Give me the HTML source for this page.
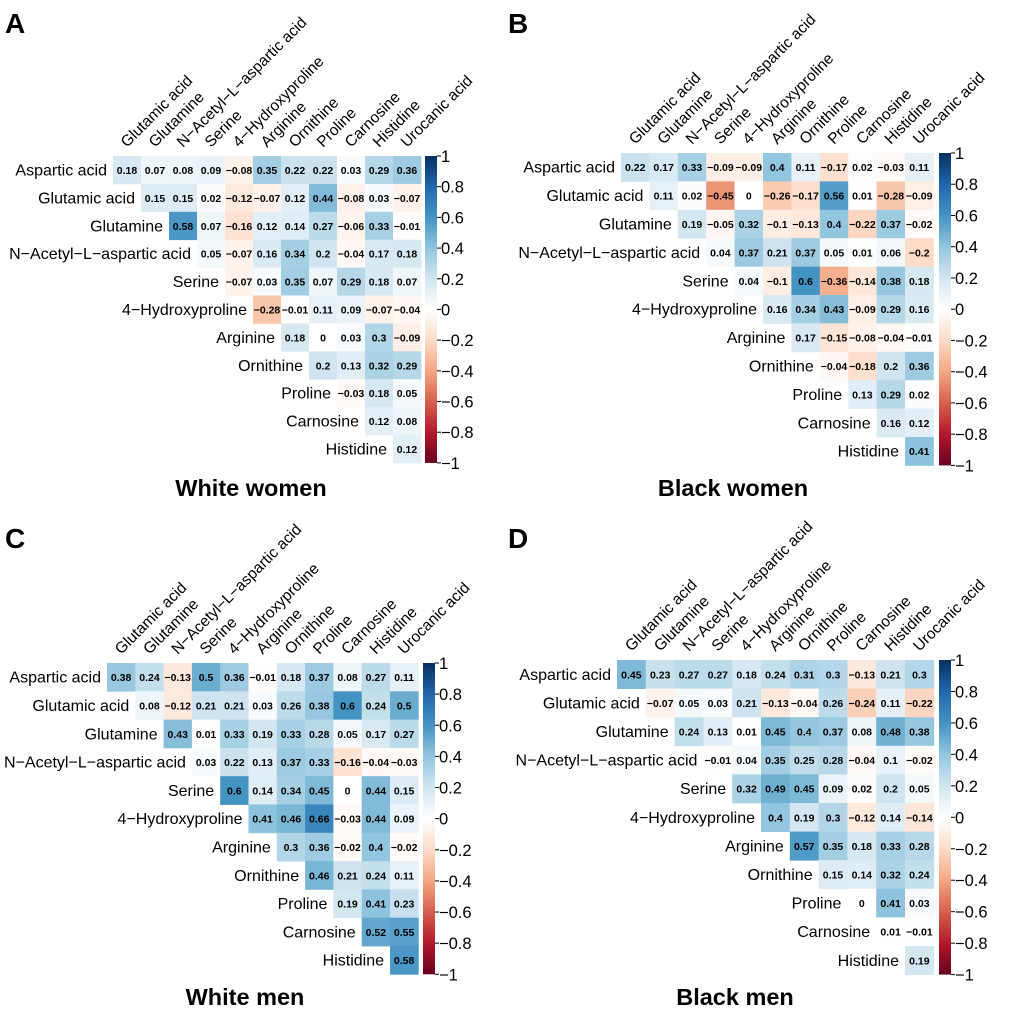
<!DOCTYPE html>
<html><head><meta charset="utf-8"><style>
html,body{margin:0;padding:0;background:#fff;}
svg{display:block;font-family:"Liberation Sans",Arial,sans-serif;}
</style></head><body>
<svg id="fig" width="1020" height="1017" viewBox="0 0 1020 1017" xmlns="http://www.w3.org/2000/svg"></svg>
<script>
const rowLabels = ["Aspartic acid","Glutamic acid","Glutamine","N\u2212Acetyl\u2212L\u2212aspartic acid","Serine","4\u2212Hydroxyproline","Arginine","Ornithine","Proline","Carnosine","Histidine"];
const colLabels = ["Glutamic acid","Glutamine","N\u2212Acetyl\u2212L\u2212aspartic acid","Serine","4\u2212Hydroxyproline","Arginine","Ornithine","Proline","Carnosine","Histidine","Urocanic acid"];
const cbTicks = [1,0.8,0.6,0.4,0.2,0,-0.2,-0.4,-0.6,-0.8,-1];

const whiteWomen = [
[0.18,0.07,0.08,0.09,-0.08,0.35,0.22,0.22,0.03,0.29,0.36],
[0.15,0.15,0.02,-0.12,-0.07,0.12,0.44,-0.08,0.03,-0.07],
[0.58,0.07,-0.16,0.12,0.14,0.27,-0.06,0.33,-0.01],
[0.05,-0.07,0.16,0.34,0.2,-0.04,0.17,0.18],
[-0.07,0.03,0.35,0.07,0.29,0.18,0.07],
[-0.28,-0.01,0.11,0.09,-0.07,-0.04],
[0.18,0,0.03,0.3,-0.09],
[0.2,0.13,0.32,0.29],
[-0.03,0.18,0.05],
[0.12,0.08],
[0.12]];
const blackWomen = [
[0.22,0.17,0.33,-0.09,-0.09,0.4,0.11,-0.17,0.02,-0.03,0.11],
[0.11,0.02,-0.45,0,-0.26,-0.17,0.56,0.01,-0.28,-0.09],
[0.19,-0.05,0.32,-0.1,-0.13,0.4,-0.22,0.37,-0.02],
[0.04,0.37,0.21,0.37,0.05,0.01,0.06,-0.2],
[0.04,-0.1,0.6,-0.36,-0.14,0.38,0.18],
[0.16,0.34,0.43,-0.09,0.29,0.16],
[0.17,-0.15,-0.08,-0.04,-0.01],
[-0.04,-0.18,0.2,0.36],
[0.13,0.29,0.02],
[0.16,0.12],
[0.41]];
const whiteMen = [
[0.38,0.24,-0.13,0.5,0.36,-0.01,0.18,0.37,0.08,0.27,0.11],
[0.08,-0.12,0.21,0.21,0.03,0.26,0.38,0.6,0.24,0.5],
[0.43,0.01,0.33,0.19,0.33,0.28,0.05,0.17,0.27],
[0.03,0.22,0.13,0.37,0.33,-0.16,-0.04,-0.03],
[0.6,0.14,0.34,0.45,0,0.44,0.15],
[0.41,0.46,0.66,-0.03,0.44,0.09],
[0.3,0.36,-0.02,0.4,-0.02],
[0.46,0.21,0.24,0.11],
[0.19,0.41,0.23],
[0.52,0.55],
[0.58]];
const blackMen = [
[0.45,0.23,0.27,0.27,0.18,0.24,0.31,0.3,-0.13,0.21,0.3],
[-0.07,0.05,0.03,0.21,-0.13,-0.04,0.26,-0.24,0.11,-0.22],
[0.24,0.13,0.01,0.45,0.4,0.37,0.08,0.48,0.38],
[-0.01,0.04,0.35,0.25,0.28,-0.04,0.1,-0.02],
[0.32,0.49,0.45,0.09,0.02,0.2,0.05],
[0.4,0.19,0.3,-0.12,0.14,-0.14],
[0.57,0.35,0.18,0.33,0.28],
[0.15,0.14,0.32,0.24],
[0,0.41,0.03],
[0.01,-0.01],
[0.19]];

const ramp = ["#67001F","#B2182B","#D6604D","#F4A582","#FDDBC7","#FFFFFF","#D1E5F0","#92C5DE","#4393C3","#2166AC","#053061"];
function hex(h){return [parseInt(h.slice(1,3),16),parseInt(h.slice(3,5),16),parseInt(h.slice(5,7),16)];}
function color(v){
  let t=(v+1)/2*10; let i=Math.min(9,Math.floor(t)); let f=t-i;
  const a=hex(ramp[i]), b=hex(ramp[i+1]);
  return "rgb("+a.map((c,k)=>Math.round(c+(b[k]-c)*f)).join(",")+")";
}
function fmt(v){ return (v<0?"\u2212":"")+String(Math.abs(v)); }
const NS="http://www.w3.org/2000/svg";
const svg=document.getElementById("fig");
function el(tag,attrs,parent){const e=document.createElementNS(NS,tag);for(const k in attrs)e.setAttribute(k,attrs[k]);(parent||svg).appendChild(e);return e;}

const panels=[
 {letter:"A",title:"White women",data:whiteWomen,x0:113,y0:156,cw:28,ch:27.9,cb:425,lx:5,ly:33,tx:251,ty:496},
 {letter:"B",title:"Black women",data:blackWomen,x0:621,y0:153,cw:28.4,ch:28.4,cb:939,lx:508,ly:33,tx:733,ty:496},
 {letter:"C",title:"White men",data:whiteMen,x0:107,y0:663,cw:28.3,ch:28.3,cb:423,lx:5,ly:548,tx:245,ty:1005},
 {letter:"D",title:"Black men",data:blackMen,x0:617,y0:660,cw:28.8,ch:28.6,cb:939,lx:508,ly:548,tx:735,ty:1005}
];

panels.forEach(p=>{
  const g=el("g",{});
  
  
  const xs=j=>p.x0+j*p.cw, ys=i=>p.y0+i*p.ch;
  const L=el("text",{x:p.lx,y:p.ly,"font-size":28,"font-weight":"bold",fill:"#000"},g);
  L.textContent=p.letter;
  
  
  const T=el("text",{x:p.tx,y:p.ty,"font-size":23.5,"font-weight":"bold","text-anchor":"middle",fill:"#000"},g);
  T.textContent=p.title;
  
  
  p.data.forEach((row,i)=>{
    const rl=el("text",{x:xs(i)-6,y:ys(i)+p.ch/2+5.5,"font-size":16,"text-anchor":"end",fill:"#000"},g);
    rl.textContent=rowLabels[i];
    
    
    row.forEach((v,k)=>{
      const j=i+k;
      const r=el("rect",{x:xs(j),y:ys(i),width:p.cw+0.4,height:p.ch+0.4,fill:color(v)},g);
      
      
      const t=el("text",{x:xs(j)+p.cw/2,y:ys(i)+p.ch/2+4,"font-size":10.5,"font-weight":"bold","text-anchor":"middle",fill:"#000"},g);
      t.textContent=fmt(v);
      
      
    });
  });
  colLabels.forEach((c,j)=>{
    const cx=xs(j)+p.cw/2, cy=p.y0-8;
    const t=el("text",{x:cx,y:cy,"font-size":15.5,fill:"#000",transform:"rotate(-45 "+cx+" "+cy+")"},g);
    t.textContent=c;
    
    
  });
  const top=p.y0, bot=p.y0+11*p.ch, H=bot-top;
  const defs=el("defs",{},g);
  const gid="grad"+p.letter;
  const lg=el("linearGradient",{id:gid,x1:0,y1:0,x2:0,y2:1},defs);
  ramp.slice().reverse().forEach((c,k)=>el("stop",{offset:(k/10),"stop-color":c},lg));
  const cbr=el("rect",{x:p.cb,y:top,width:12,height:H,fill:"url(#"+gid+")"},g);
  
  
  const ys2=v=>top+(1-v)/2*H;
  cbTicks.forEach(v=>{
    const y=ys2(v);
    el("line",{x1:p.cb+12,x2:p.cb+16,y1:y,y2:y,stroke:"#000","stroke-width":1},g);
    const t=el("text",{x:p.cb+16,y:y+6,"font-size":16.5,fill:"#000"},g);
    t.textContent=fmt(v);
    
    
  });
});
</script>
</body></html>
